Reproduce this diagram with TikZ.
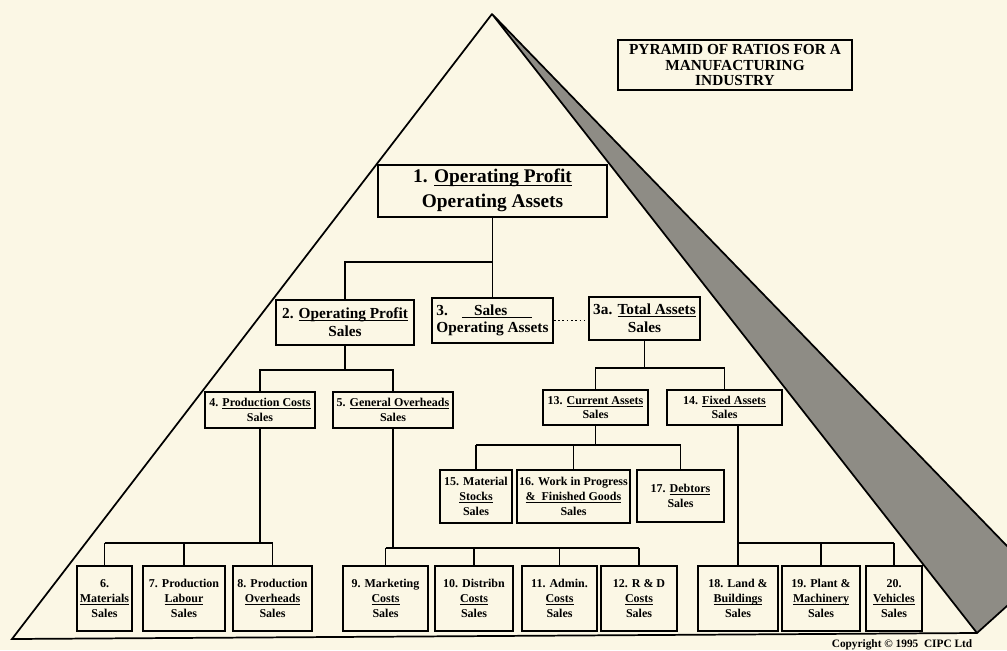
\documentclass[tikz,border=0pt]{standalone}
\usepackage{fontspec}
\setmainfont{Liberation Serif}
\definecolor{myPaper}{RGB}{251,247,229}
\definecolor{myBand}{RGB}{142,140,133}
\newcommand{\undl}[1]{\underline{\smash{#1}}}
\tikzset{
    ratio/.style={draw,line width=1.4pt,fill=myPaper,align=center,inner sep=0.5pt},
    bigratio/.style={ratio,font=\fontsize{14.5}{18.5}\selectfont\bfseries},
    midratio/.style={ratio,font=\fontsize{11.5}{13}\selectfont\bfseries},
    smallratio/.style={ratio,font=\fontsize{9}{11}\selectfont\bfseries},
    link/.style={line width=0.9pt},
}
\begin{document}
\begin{tikzpicture}[x=0.75pt,y=-0.75pt]
    % paper
    \fill[myPaper] (0,0) rectangle (1007,650);
    \useasboundingbox (0,0) rectangle (1007,650);

    % pyramid outline
    \draw[line width=1.3pt,line join=miter] (977,633) -- (12,639) -- (492,14);

    % shaded right face
    \begin{scope}
        \clip (0,0) rectangle (1007,650);
        \filldraw[fill=myBand,draw=black,line width=1.3pt,line join=round]
            (492,14) -- (977,633) -- (1038,578) -- cycle;
    \end{scope}

    % title
    \node[ratio,line width=1.2pt,font=\fontsize{11.5}{11.5}\selectfont\bfseries,
        minimum width=175.5pt,minimum height=37.5pt] (title) at (735,65)
        {PYRAMID OF RATIOS FOR A\\MANUFACTURING\\INDUSTRY};

    % top ratio
    \node[bigratio,minimum width=171.75pt,minimum height=39pt] (b1) at (492.5,191)
        {1. \undl{Operating Profit}\\Operating Assets};

    % second level
    \node[midratio,minimum width=103.5pt,minimum height=33.75pt] (b2) at (345,322.5)
        {2. \undl{Operating Profit}\\Sales};
    \node[midratio,minimum width=90.75pt,minimum height=33.75pt,align=left] (b3) at (492.5,320.5)
        {3.\hspace{0.9em}\undl{\hspace{0.8em}Sales\hspace{1.6em}}\\Operating Assets};
    \node[midratio,minimum width=83.25pt,minimum height=32.25pt] (b3a) at (644.5,318.5)
        {3a. \undl{Total Assets}\\Sales};

    % third level
    \node[smallratio,minimum width=82.5pt,minimum height=27pt] (b4) at (260,410)
        {4. \undl{Production Costs}\\Sales};
    \node[smallratio,minimum width=90pt,minimum height=27pt] (b5) at (393,410)
        {5. \undl{General Overheads}\\Sales};
    \node[smallratio,minimum width=78.75pt,minimum height=26.25pt] (b13) at (595.5,407.5)
        {13. \undl{Current Assets}\\Sales};
    \node[smallratio,minimum width=86.25pt,minimum height=26.25pt] (b14) at (724.5,407.5)
        {14. \undl{Fixed Assets}\\Sales};

    % current assets split
    \node[smallratio,minimum width=54pt,minimum height=39.75pt] (b15) at (476,496.5)
        {15. Material\\\undl{Stocks}\\Sales};
    \node[smallratio,minimum width=84.75pt,minimum height=39.75pt] (b16) at (573.5,496.5)
        {16. Work in Progress\\\undl{\&\ \ Finished Goods}\\Sales};
    \node[smallratio,minimum width=65.25pt,minimum height=39pt] (b17) at (680.5,496)
        {17. \undl{Debtors}\\Sales};

    % bottom row
    \node[smallratio,minimum width=41.25pt,minimum height=48.75pt] (b6) at (104.5,598.5)
        {6.\\\undl{Materials}\\Sales};
    \node[smallratio,minimum width=61.5pt,minimum height=48.75pt] (b7) at (184,598.5)
        {7. Production\\\undl{Labour}\\Sales};
    \node[smallratio,minimum width=59.25pt,minimum height=48.75pt] (b8) at (272.5,598.5)
        {8. Production\\\undl{Overheads}\\Sales};
    \node[smallratio,minimum width=63.75pt,minimum height=48.75pt] (b9) at (385.5,598.5)
        {9. Marketing\\\undl{Costs}\\Sales};
    \node[smallratio,minimum width=58.5pt,minimum height=48.75pt] (b10) at (474,598.5)
        {10. Distribn\\\undl{Costs}\\Sales};
    \node[smallratio,minimum width=56.25pt,minimum height=48.75pt] (b11) at (559.5,598.5)
        {11. Admin.\\\undl{Costs}\\Sales};
    \node[smallratio,minimum width=57pt,minimum height=48.75pt] (b12) at (639,598.5)
        {12. R \& D\\\undl{Costs}\\Sales};
    \node[smallratio,minimum width=60pt,minimum height=48.75pt] (b18) at (738,598.5)
        {18. Land \&\\\undl{Buildings}\\Sales};
    \node[smallratio,minimum width=58.5pt,minimum height=48.75pt] (b19) at (821,598.5)
        {19. Plant \&\\\undl{Machinery}\\Sales};
    \node[smallratio,minimum width=42pt,minimum height=48.75pt] (b20) at (894,598.5)
        {20.\\\undl{Vehicles}\\Sales};

    % rails
    \coordinate (r1) at (0,262);
    \coordinate (r2) at (0,370);
    \coordinate (r3) at (0,368);
    \coordinate (r4) at (0,543);
    \coordinate (r5) at (0,548);
    \coordinate (r13) at (0,445);
    \coordinate (r14) at (0,543);

    % connectors
    \draw[link] (b1.south) -- (b1.south |- r1);
    \draw[link] (b2.north) |- (b3.north |- r1) -- (b3.north);

    \draw[link] (b2.south) -- (b2.south |- r2);
    \draw[link] (b4.north) |- (b5.north |- r2) -- (b5.north);

    \draw[link] (b3a.south) -- (b3a.south |- r3);
    \draw[link] (b13.north) |- (b14.north |- r3) -- (b14.north);

    \draw[dotted,line width=1.2pt] (b3.east) -- (b3.east -| b3a.west);

    \draw[link] (b4.south) -- (b4.south |- r4);
    \draw[link] (b6.north |- r4) -- (b8.north |- r4);
    \foreach \c in {b6,b7,b8}{
        \draw[link] (\c.north) -- (\c.north |- r4);
    }

    \draw[link] (b5.south) -- (b5.south |- r5);
    \draw[link] (b9.north |- r5) -- (b12.north |- r5);
    \foreach \c in {b9,b10,b11,b12}{
        \draw[link] (\c.north) -- (\c.north |- r5);
    }

    \draw[link] (b13.south) -- (b13.south |- r13);
    \draw[link] (b15.north |- r13) -- (b17.north |- r13);
    \foreach \c in {b15,b16,b17}{
        \draw[link] (\c.north) -- (\c.north |- r13);
    }

    \draw[link] (b14.south -| b18.north) -- (b18.north |- r14);
    \draw[link] (b18.north |- r14) -- (b20.north |- r14);
    \foreach \c in {b18,b19,b20}{
        \draw[link] (\c.north) -- (\c.north |- r14);
    }

    % copyright
    \node[font=\fontsize{8.5}{9}\selectfont\bfseries] (copy) at (902,645)
        {Copyright \textcopyright{} 1995\ \ CIPC Ltd};
\end{tikzpicture}
\end{document}
